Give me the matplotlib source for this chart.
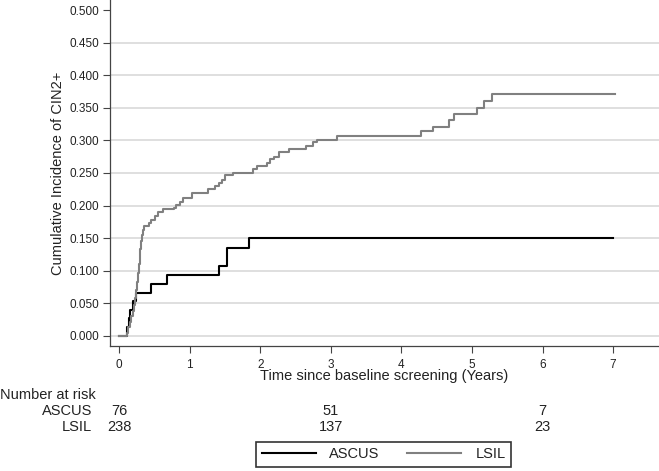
import matplotlib
matplotlib.use('Agg')
import matplotlib.pyplot as plt
from matplotlib.transforms import blended_transform_factory

plt.rcParams['font.family'] = ['Liberation Sans', 'DejaVu Sans']

# Kaplan-Meier style cumulative incidence (step points: time, value)
ascus_t = [0, 0.11, 0.137, 0.16, 0.19, 0.24, 0.457, 0.675, 1.415, 1.535, 1.84, 7.0]
ascus_v = [0, 0.013, 0.027, 0.039, 0.053, 0.066, 0.080, 0.093, 0.107, 0.135, 0.150, 0.150]

lsil_t = [0, 0.11, 0.13, 0.15, 0.17, 0.19, 0.21, 0.23, 0.245, 0.255, 0.265, 0.275, 0.29,
          0.30, 0.315, 0.326, 0.34, 0.35, 0.42, 0.45, 0.51, 0.557, 0.62, 0.77, 0.81, 0.864,
          0.91, 1.03, 1.265, 1.36, 1.41, 1.455, 1.50, 1.62, 1.90, 1.95, 2.09, 2.14, 2.19,
          2.27, 2.40, 2.65, 2.75, 2.81, 3.09, 4.28, 4.45, 4.68, 4.75, 5.07, 5.17, 5.29, 7.02]
lsil_v = [0, 0.004, 0.013, 0.021, 0.030, 0.038, 0.047, 0.058, 0.071, 0.083, 0.097, 0.110, 0.122,
          0.134, 0.145, 0.155, 0.163, 0.169, 0.174, 0.178, 0.184, 0.190, 0.194, 0.197, 0.201, 0.206,
          0.211, 0.220, 0.225, 0.230, 0.235, 0.240, 0.247, 0.250, 0.256, 0.261, 0.266, 0.271, 0.274,
          0.282, 0.287, 0.292, 0.297, 0.301, 0.307, 0.314, 0.321, 0.331, 0.340, 0.350, 0.361, 0.372, 0.372]

# number at risk table
risk_times = [0, 3, 6]
risk_ascus = [76, 51, 7]
risk_lsil = [238, 137, 23]

fs = 8.5    # tick labels
fl = 10.5   # other text
txt = '#222222'

fig = plt.figure(figsize=(6.59, 4.71), dpi=100)
ax = fig.add_axes([110/659, 125/471, 549/659, 346/471])

ax.step(ascus_t, ascus_v, where='post', color='black', lw=1.5, label='ASCUS', zorder=3)
ax.step(lsil_t, lsil_v, where='post', color='#808080', lw=1.5, label='LSIL', zorder=4)

ax.set_xlim(-0.13, 7.65)
ax.set_ylim(-0.0155, 0.5155)
ax.set_yticks([i * 0.05 for i in range(11)])
ax.set_yticklabels(['%.3f' % (i * 0.05) for i in range(11)])
ax.set_xticks(range(8))

ax.yaxis.grid(True, color='#dcdcdc', lw=1.3)
ax.set_axisbelow(True)
ax.get_ygridlines()[-1].set_visible(False)

for s in ['top', 'right']:
    ax.spines[s].set_visible(False)
for s in ['left', 'bottom']:
    ax.spines[s].set_color('#444444')
    ax.spines[s].set_linewidth(0.9)

ax.tick_params(axis='both', labelsize=fs, colors='#444444', labelcolor=txt, length=5, width=0.8, pad=3)
ax.tick_params(axis='x', pad=4)

ax.set_xlabel('Time since baseline screening (Years)', fontsize=fl, color=txt, labelpad=-1)
ax.set_ylabel('Cumulative Incidence of CIN2+', fontsize=fl, color=txt, labelpad=3)

# risk table below the axis
tr = blended_transform_factory(ax.transData, fig.transFigure)
fig.text(0.0, 1 - 395/471, 'Number at risk', fontsize=fl, color=txt, va='center', ha='left')
fig.text(92/659, 1 - 411/471, 'ASCUS', fontsize=fl, color=txt, va='center', ha='right')
fig.text(92/659, 1 - 427/471, 'LSIL', fontsize=fl, color=txt, va='center', ha='right')
for t, a, l in zip(risk_times, risk_ascus, risk_lsil):
    ax.text(t, 1 - 411/471, str(a), transform=tr, fontsize=fl, color=txt, va='center', ha='center')
    ax.text(t, 1 - 427/471, str(l), transform=tr, fontsize=fl, color=txt, va='center', ha='center')

leg = fig.legend(loc='center', bbox_to_anchor=(383.5/659, 1 - 454.5/471), ncol=2,
                 fontsize=fl, frameon=True, fancybox=False, edgecolor='black',
                 handlelength=3.7, handletextpad=0.95, columnspacing=1.9, borderpad=0.4)
leg.get_frame().set_linewidth(1.2)
for t in leg.get_texts():
    t.set_color(txt)

fig.savefig('out.png', dpi=100)
